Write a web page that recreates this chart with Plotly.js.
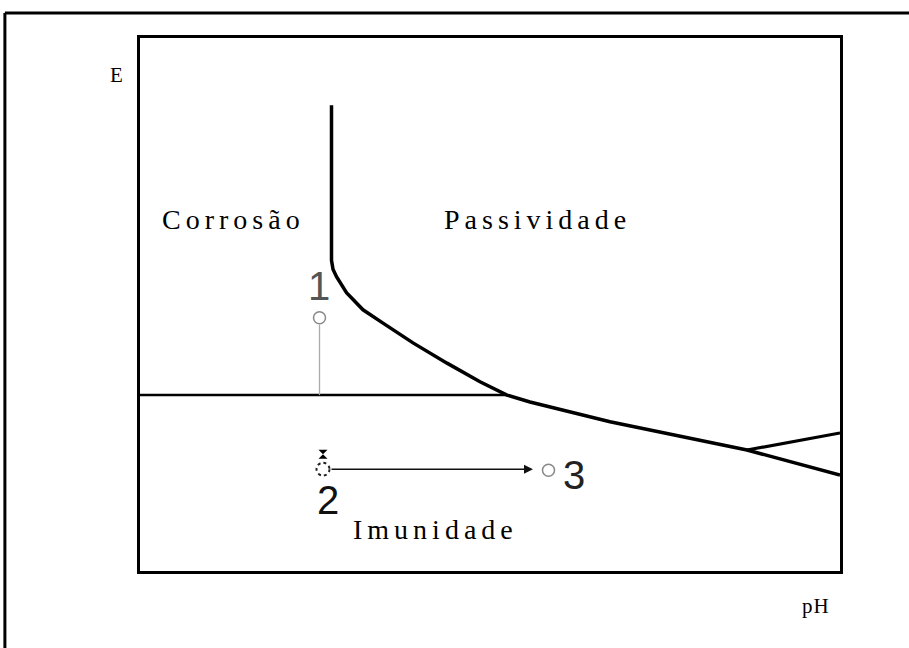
<!DOCTYPE html>
<html>
<head>
<meta charset="utf-8">
<script src="https://cdn.plot.ly/plotly-3.0.1.min.js"></script>
<style>
html,body{margin:0;padding:0;background:#fff;}
#chart{width:909px;height:648px;}
.annotation-text{letter-spacing:5px;}
</style>
</head>
<body>
<div id="chart"></div>
<script>
// Boundary curve (vertical line + bend + descending line), pH vs E (arbitrary units)
const boundaryX = [3.83, 3.83, 3.86, 3.93, 4.13, 4.46, 4.86, 5.46, 6.14, 6.80, 7.34, 7.80, 9.40, 12.14, 14.0];
const boundaryY = [8.74, 5.83, 5.66, 5.52, 5.22, 4.90, 4.65, 4.28, 3.90, 3.55, 3.30, 3.17, 2.80, 2.27, 1.80];
// Horizontal immunity boundary
const immunityX = [0, 7.34];
const immunityY = [3.30, 3.30];
// Upper branch at high pH
const branchX = [12.14, 14.0];
const branchY = [2.27, 2.59];
// Points 1, 2, 3
const pointLabels = ["1", "2", "3"];
const pointX = [3.59, 3.66, 8.17];
const pointY = [4.75, 1.91, 1.89];
// Drop line from point 1 to the boundary
const dropX = [3.59, 3.59];
const dropY = [4.62, 3.30];
// Region labels
const regionNames = ["Corrosão", "Passividade", "Imunidade"];
const regionX = [1.86, 7.94, 5.90];
const regionY = [6.59, 6.59, 0.77];
// Axis labels
const xLabel = "pH";
const yLabel = "E";

const serif = "Liberation Serif, Times New Roman, serif";
const sans = "Liberation Sans, Arial, sans-serif";

const traces = [
  {x: boundaryX, y: boundaryY, mode: "lines", line: {color: "#000", width: 3.5}, hoverinfo: "skip"},
  {x: immunityX, y: immunityY, mode: "lines", line: {color: "#000", width: 2.5}, hoverinfo: "skip"},
  {x: branchX, y: branchY, mode: "lines", line: {color: "#000", width: 3.2}, hoverinfo: "skip"},
  {x: dropX, y: dropY, mode: "lines", line: {color: "#aaa", width: 1.3}, hoverinfo: "skip"},
  {x: [pointX[0], pointX[2]], y: [pointY[0], pointY[2]], mode: "markers",
   marker: {symbol: "circle-open", size: 12, color: "#888", line: {width: 1.5, color: "#888"}}, hoverinfo: "skip"},
  {x: [pointX[1]], y: [pointY[1] + 0.28], mode: "markers",
   marker: {symbol: "hourglass", size: 9, color: "#000"}, hoverinfo: "skip"}
];

const r2x = 0.13, r2y = 0.12;
const shapes = [
  // dotted circle for point 2
  {type: "circle", xref: "x", yref: "y", x0: pointX[1] - r2x, x1: pointX[1] + r2x,
   y0: pointY[1] - r2y, y1: pointY[1] + r2y, line: {color: "#222", width: 2, dash: "dot"}},
  // outer frame top and left
  {type: "line", xref: "paper", yref: "paper", x0: -0.193, x1: 1.1, y0: 1.047, y1: 1.047,
   line: {color: "#000", width: 3}},
  {type: "line", xref: "paper", yref: "paper", x0: -0.193, x1: -0.193, y0: 1.047, y1: -0.15,
   line: {color: "#000", width: 3}}
];

const annotations = [];
for (let i = 0; i < regionNames.length; i++) {
  annotations.push({x: regionX[i], y: regionY[i], xref: "x", yref: "y", text: regionNames[i],
    showarrow: false, xanchor: "center", yanchor: "middle",
    font: {family: serif, size: 28, color: "#000"}});
}
const numOffX = [0.03, 0.14, 0.55];
const numOffY = [0.60, -0.58, -0.09];
const numCol = ["#555", "#111", "#222"];
for (let i = 0; i < pointLabels.length; i++) {
  annotations.push({x: pointX[i] + numOffX[i], y: pointY[i] + numOffY[i], xref: "x", yref: "y",
    text: pointLabels[i], showarrow: false, xanchor: "center", yanchor: "middle",
    font: {family: sans, size: 40, color: numCol[i]}});
}
// arrow from point 2 to point 3
annotations.push({x: pointX[2] - 0.31, y: pointY[1], ax: pointX[1] + 0.14, ay: pointY[1],
  xref: "x", yref: "y", axref: "x", ayref: "y", text: "", showarrow: true,
  arrowhead: 2, arrowsize: 1.2, arrowwidth: 1.5, arrowcolor: "#111"});
// axis labels
annotations.push({x: -0.033, y: 0.957, xref: "paper", yref: "paper", text: yLabel, showarrow: false,
  xanchor: "center", font: {family: serif, size: 21, color: "#000"}});
annotations.push({x: 0.965, y: -0.092, xref: "paper", yref: "paper", text: xLabel, showarrow: false,
  xanchor: "center", font: {family: serif, size: 21, color: "#000"}});

const layout = {
  width: 909, height: 648,
  margin: {l: 140, r: 69, t: 38, b: 77},
  paper_bgcolor: "#fff", plot_bgcolor: "#fff",
  showlegend: false,
  xaxis: {range: [0, 14], showgrid: false, zeroline: false, showticklabels: false, ticks: "",
    showline: true, mirror: true, linecolor: "#000", linewidth: 3, fixedrange: true},
  yaxis: {range: [0, 10], showgrid: false, zeroline: false, showticklabels: false, ticks: "",
    showline: true, mirror: true, linecolor: "#000", linewidth: 3, fixedrange: true},
  shapes: shapes,
  annotations: annotations
};

Plotly.newPlot("chart", traces, layout, {staticPlot: true}).then(function () {
  document.querySelectorAll(".annotation-text").forEach(function (t) {
    if (t.textContent === xLabel || t.textContent === yLabel) t.style.letterSpacing = "1px";
  });
});
</script>
</body>
</html>
